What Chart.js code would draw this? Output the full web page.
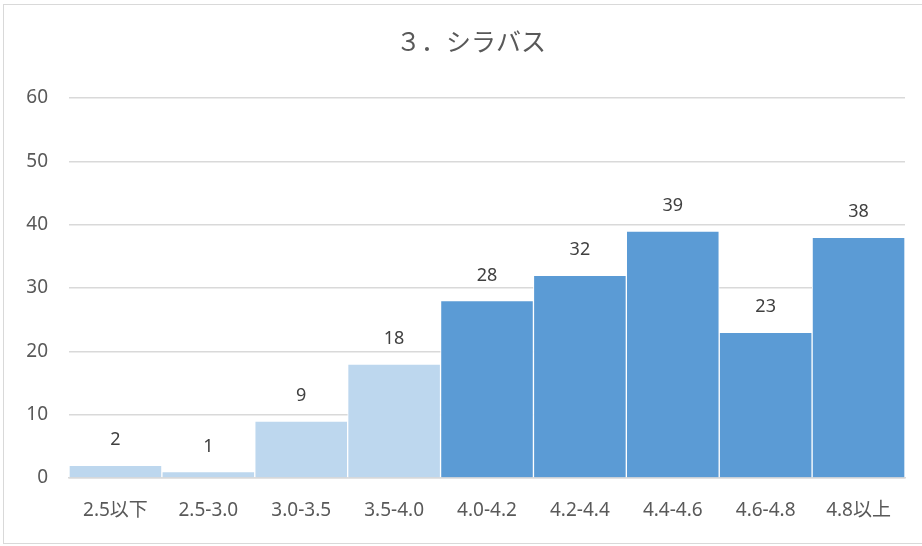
<!DOCTYPE html>
<html>
<head>
<meta charset="utf-8">
<script src="https://cdn.jsdelivr.net/npm/chart.js@4"></script>
<style>
  html, body { margin: 0; padding: 0; background: #fff; }
  #wrap { position: relative; width: 922px; height: 546px; }
  #frame { position: absolute; left: 3px; top: 4px; width: 922px; height: 540px; border: 1px solid #d9d9d9; box-sizing: border-box; pointer-events: none; }
</style>
</head>
<body>
<div id="wrap">
  <canvas id="chart" width="922" height="546"></canvas>
  <div id="frame"></div>
</div>
<script>
// chart data
const chartTitle = '３．シラバス';
const categories = ['2.5以下', '2.5-3.0', '3.0-3.5', '3.5-4.0', '4.0-4.2', '4.2-4.4', '4.4-4.6', '4.6-4.8', '4.8以上'];
const counts = [2, 1, 9, 18, 28, 32, 39, 23, 38];
const yMax = 60;
const yStep = 10;

const FONT = '"Noto Sans", "Noto Sans CJK JP", sans-serif';

// first four ranges are below 4.0, drawn lighter
const barColors = categories.map((c, i) => i < 4 ? '#bdd7ee' : '#5b9bd5');

// title sits a little right of centre, as in the original
const titleText = {
    id: 'titleText',
    afterDraw(chart) {
        const ctx = chart.ctx;
        ctx.save();
        ctx.font = '25px ' + FONT;
        ctx.fillStyle = '#595959';
        ctx.textAlign = 'center';
        ctx.textBaseline = 'middle';
        ctx.fillText(chartTitle, 471, 44);
        ctx.restore();
    }
};

// value labels over each bar
const valueLabels = {
    id: 'valueLabels',
    afterDatasetsDraw(chart) {
        const ctx = chart.ctx;
        const meta = chart.getDatasetMeta(0);
        ctx.save();
        ctx.font = '18px ' + FONT;
        ctx.fillStyle = '#404040';
        ctx.textAlign = 'center';
        ctx.textBaseline = 'middle';
        meta.data.forEach((bar, i) => {
            ctx.fillText(String(counts[i]), bar.x, bar.y - 25);
        });
        ctx.restore();
    }
};

const ctx = document.getElementById('chart').getContext('2d');
new Chart(ctx, {
    type: 'bar',
    data: {
        labels: categories,
        datasets: [{
            data: counts,
            backgroundColor: barColors,
            borderColor: '#ffffff',
            borderWidth: 1,
            barPercentage: 1,
            categoryPercentage: 1
        }]
    },
    options: {
        responsive: false,
        animation: false,
        layout: { padding: { top: 98, right: 17, bottom: 0, left: 0 } },
        plugins: {
            legend: { display: false },
            tooltip: { enabled: false },
            title: { display: false }
        },
        scales: {
            x: {
                grid: { display: false, drawTicks: false },
                border: { display: true, color: '#d9d9d9', width: 1.5 },
                ticks: { color: '#595959', font: { family: FONT, size: 19 }, padding: 21, maxRotation: 0, autoSkip: false },
                afterFit(scale) { scale.height = 68; }
            },
            y: {
                min: 0,
                max: yMax,
                grid: { color: '#d9d9d9', lineWidth: 1.5, drawTicks: false },
                border: { display: false },
                ticks: { stepSize: yStep, color: '#595959', font: { family: FONT, size: 19 }, padding: 21 },
                afterFit(scale) { scale.width = 69; }
            }
        }
    },
    plugins: [valueLabels, titleText]
});
</script>
</body>
</html>
